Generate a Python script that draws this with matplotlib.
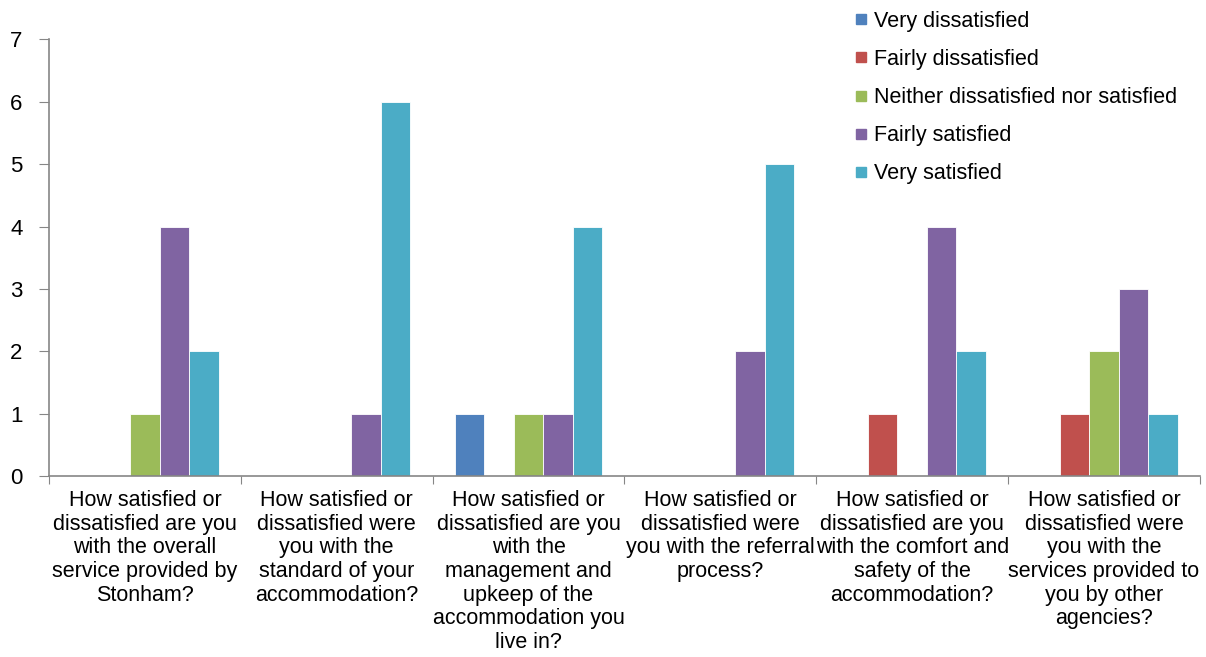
import numpy as np
import matplotlib.pyplot as plt
from matplotlib.lines import Line2D

plt.rcParams['font.family'] = ['Liberation Sans', 'DejaVu Sans']

questions = [
    "How satisfied or\ndissatisfied are you\nwith the overall\nservice provided by\nStonham?",
    "How satisfied or\ndissatisfied were\nyou with the\nstandard of your\naccommodation?",
    "How satisfied or\ndissatisfied are you\nwith the\nmanagement and\nupkeep of the\naccommodation you\nlive in?",
    "How satisfied or\ndissatisfied were\nyou with the referral\nprocess?",
    "How satisfied or\ndissatisfied are you\nwith the comfort and\nsafety of the\naccommodation?",
    "How satisfied or\ndissatisfied were\nyou with the\nservices provided to\nyou by other\nagencies?",
]
series_names = ["Very dissatisfied", "Fairly dissatisfied",
                "Neither dissatisfied nor satisfied", "Fairly satisfied",
                "Very satisfied"]
very_dissatisfied = [0, 0, 1, 0, 0, 0]
fairly_dissatisfied = [0, 0, 0, 0, 1, 1]
neither = [1, 0, 1, 0, 0, 2]
fairly_satisfied = [4, 1, 1, 2, 4, 3]
very_satisfied = [2, 6, 4, 5, 2, 1]
colors = ["#4F81BD", "#C0504D", "#9BBB59", "#8064A2", "#4BACC6"]

values = [very_dissatisfied, fairly_dissatisfied, neither, fairly_satisfied, very_satisfied]

fig = plt.figure(figsize=(12.06, 6.57), dpi=100)
ax = fig.add_axes([0.0406, 0.2755, 0.9544, 0.6644])

centers = np.arange(len(questions)) + 0.5
w = 1 / 6.5
for j, (vals, col) in enumerate(zip(values, colors)):
    ax.bar(centers + (j - 2) * w, vals, width=w, color=col,
           edgecolor='white', linewidth=0.6, zorder=2)

ax.set_xlim(0, len(questions))
ax.set_ylim(0, 7)
ax.set_yticks(range(8))
ax.tick_params(axis='y', labelsize=16, length=7, color='#868686', pad=12)
ax.set_xticks(range(len(questions) + 1))
ax.set_xticklabels([])
ax.tick_params(axis='x', which='major', length=6, color='#868686')
ax.set_xticks(centers, minor=True)
ax.set_xticklabels(questions, minor=True, fontsize=15.5, linespacing=1.17)
ax.tick_params(axis='x', which='minor', length=0, pad=10)

for s in ['top', 'right']:
    ax.spines[s].set_visible(False)
for s in ['left', 'bottom']:
    ax.spines[s].set_color('#868686')
    ax.spines[s].set_linewidth(1.2)

handles = [Line2D([], [], marker='s', linestyle='none', markersize=7.5,
                  markerfacecolor=c, markeredgecolor=c) for c in colors]
fig.legend(handles, series_names, loc='upper left',
           bbox_to_anchor=(846 / 1206, 1 - 2 / 657), frameon=False,
           fontsize=15.5, handlelength=0.6, handletextpad=0.3,
           labelspacing=0.8, borderaxespad=0)

fig.savefig("out.png", dpi=100)
